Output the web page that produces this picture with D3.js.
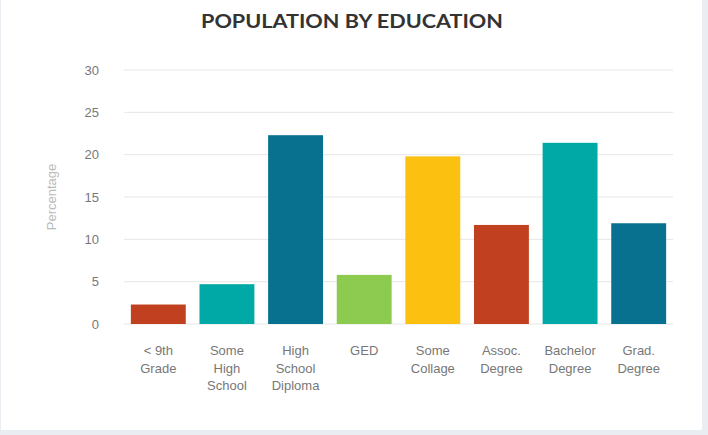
<!DOCTYPE html>
<html><head><meta charset="utf-8">
<script src="https://cdn.jsdelivr.net/npm/d3@7"></script>
<style>
html,body{margin:0;padding:0;background:#eaeef2;}
svg{display:block;}
</style></head>
<body>
<svg id="chart" width="708" height="435"></svg>
<script>
const categories = ["< 9th|Grade", "Some|High|School", "High|School|Diploma", "GED", "Some|Collage", "Assoc.|Degree", "Bachelor|Degree", "Grad.|Degree"];
const values = [2.3, 4.7, 22.3, 5.8, 19.8, 11.7, 21.4, 11.9];
const colors = ["#c1401f", "#00a8a6", "#08718f", "#8ccb50", "#fbc010", "#c1401f", "#00a8a6", "#08718f"];
const yTicks = [0, 5, 10, 15, 20, 25, 30];

const svg = d3.select("#chart");
svg.append("rect").attr("x", 1).attr("y", 0).attr("width", 701).attr("height", 430).attr("fill", "#ffffff");

const x = d3.scaleBand().domain(categories).range([124, 673]).paddingInner(0.2).paddingOuter(0.1);
const y = d3.scaleLinear().domain([0, 30]).range([324, 70]);

// gridlines
svg.append("g").selectAll("line").data(yTicks).join("line")
  .attr("x1", 124).attr("x2", 673)
  .attr("y1", d => y(d)).attr("y2", d => y(d))
  .attr("stroke", "#e6e6e6").attr("stroke-width", 1);

// y axis labels
const yAxis = d3.axisLeft(y).tickValues(yTicks).tickSize(0).tickPadding(0);
const gy = svg.append("g").attr("transform", "translate(99,0)").call(yAxis);
gy.select(".domain").remove();
gy.selectAll("text").attr("font-family", "Liberation Sans, Arial, sans-serif").attr("font-size", 13).attr("fill", "#777");

// bars
svg.append("g").selectAll("rect").data(values).join("rect")
  .attr("x", (d, i) => x(categories[i]))
  .attr("width", x.bandwidth())
  .attr("y", d => y(d))
  .attr("height", d => y(0) - y(d))
  .attr("fill", (d, i) => colors[i]);

// x axis labels
const xAxis = d3.axisBottom(x).tickSize(0).tickPadding(0).tickFormat("");
const gx = svg.append("g").attr("transform", "translate(0,324)").call(xAxis);
gx.select(".domain").remove();
gx.selectAll(".tick").each(function(d) {
  const t = d3.select(this).append("text")
    .attr("text-anchor", "middle")
    .attr("font-family", "Liberation Sans, Arial, sans-serif")
    .attr("font-size", 13).attr("fill", "#777");
  d.split("|").forEach((line, i) => {
    t.append("tspan").attr("x", 0).attr("y", 31 + i * 17.5).text(line);
  });
});

// y axis title
svg.append("text")
  .attr("transform", "translate(56,197) rotate(-90)")
  .attr("text-anchor", "middle")
  .attr("font-family", "Liberation Sans, Arial, sans-serif")
  .attr("font-size", 13).attr("fill", "#bbb")
  .text("Percentage");

// title
svg.append("text")
  .attr("x", 352).attr("y", 28)
  .attr("text-anchor", "middle")
  .attr("font-family", "Lato, DejaVu Sans, sans-serif")
  .attr("font-weight", "bold")
  .attr("font-size", 19)
  .attr("textLength", 302).attr("lengthAdjust", "spacingAndGlyphs")
  .attr("fill", "#333")
  .text("POPULATION BY EDUCATION");
</script>
</body></html>
